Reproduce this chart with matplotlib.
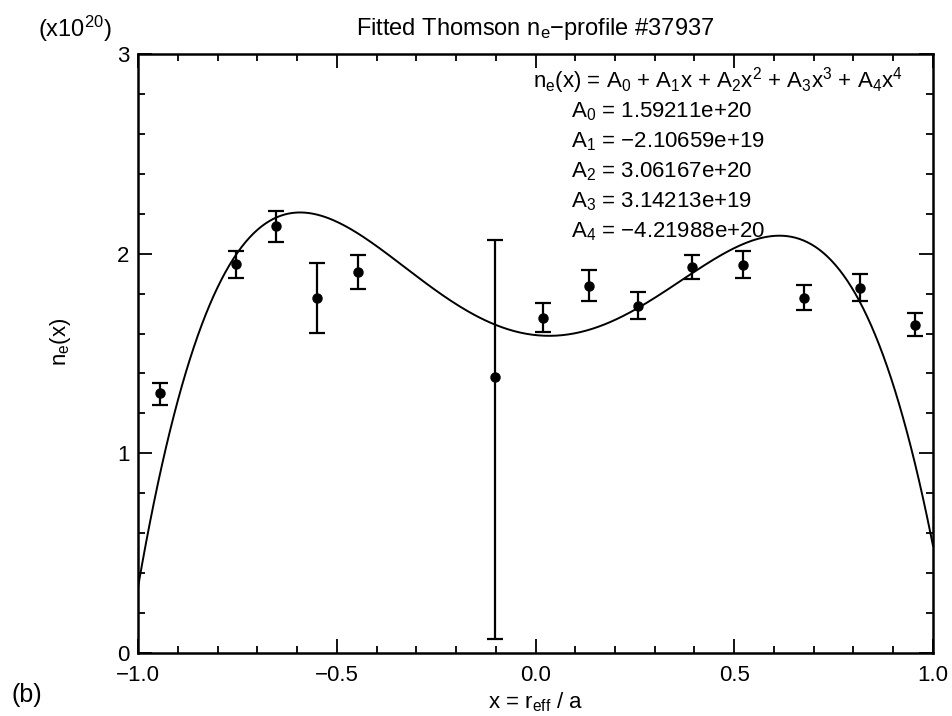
import numpy as np
import matplotlib
matplotlib.use("Agg")
import matplotlib.pyplot as plt
from matplotlib.ticker import MultipleLocator, FuncFormatter

plt.rcParams['font.family'] = ['Liberation Sans', 'DejaVu Sans']
plt.rcParams['mathtext.default'] = 'regular'

# Thomson points (x = r_eff/a, n_e in 1e20 m^-3)
x_pts = [-0.945, -0.753, -0.654, -0.550, -0.447, -0.101, 0.020, 0.135,
         0.258, 0.395, 0.523, 0.675, 0.816, 0.955]
ne_pts = [1.30, 1.95, 2.14, 1.78, 1.91, 1.38, 1.68, 1.84,
          1.74, 1.935, 1.945, 1.78, 1.83, 1.645]
err_lo = [0.06, 0.07, 0.08, 0.175, 0.085, 1.31, 0.07, 0.078,
          0.066, 0.06, 0.066, 0.062, 0.066, 0.057]
err_hi = [0.05, 0.065, 0.075, 0.175, 0.085, 0.69, 0.073, 0.078,
          0.066, 0.06, 0.066, 0.063, 0.066, 0.056]

# fit coefficients printed on the plot
coef = [1.59211e+20, -2.10659e+19, 3.06167e+20, 3.14213e+19, -4.21988e+20]
coef_txt = ['1.59211e+20', '\u22122.10659e+19', '3.06167e+20', '3.14213e+19', '\u22124.21988e+20']

fig = plt.figure(figsize=(9.52, 7.16), dpi=100)
ax = fig.add_axes([0.145, 0.088, 0.835, 0.8366])

xx = np.linspace(-1, 1, 400)
yy = sum(c * xx**i for i, c in enumerate(coef)) / 1e20
ax.plot(xx, yy, color='black', lw=1.4)

ax.errorbar(x_pts, ne_pts, yerr=[err_lo, err_hi], fmt='o', color='black',
            ms=6.5, capsize=6, elinewidth=1.6, capthick=1.6)

ax.set_xlim(-1, 1)
ax.set_ylim(0, 3)
ax.xaxis.set_major_locator(MultipleLocator(0.5))
ax.xaxis.set_minor_locator(MultipleLocator(0.1))
ax.yaxis.set_major_locator(MultipleLocator(1))
ax.yaxis.set_minor_locator(MultipleLocator(0.2))
ax.xaxis.set_major_formatter(FuncFormatter(lambda v, p: f"{v:.1f}".replace('-', '\u2212')))
ax.tick_params(which='both', direction='in', top=True, right=True, width=1.3, labelsize=16)
ax.tick_params(which='major', length=10)
ax.tick_params(axis='x', which='major', pad=9)
ax.tick_params(axis='y', which='major', pad=6)
ax.tick_params(which='minor', length=5)
for s in ax.spines.values():
    s.set_linewidth(1.8)

ax.set_xlabel(r'x = r$_{eff}$ / a', fontsize=16, labelpad=3)
ax.set_ylabel(r'n$_e$(x)', fontsize=16)
ax.yaxis.set_label_coords(-0.082, 0.52)

fig.text(0.562, 0.96, r'Fitted Thomson n$_e$$-$profile #37937', ha='center', va='center',
         fontsize=17)
fig.text(0.04, 0.96, r'(x10$^{20}$)', ha='left', va='center', fontsize=17)
fig.text(0.012, 0.03, '(b)', ha='left', va='center', fontsize=18)

ax.text(0.497, 0.955, r'n$_e$(x) = A$_0$ + A$_1$x + A$_2$x$^2$ + A$_3$x$^3$ + A$_4$x$^4$',
        transform=ax.transAxes, ha='left', va='center', fontsize=16)
for i, t in enumerate(coef_txt):
    ax.text(0.545, 0.903 - i * 0.0501, f'A$_{i}$ = ' + t,
            transform=ax.transAxes, ha='left', va='center', fontsize=16)

fig.savefig('out.png', dpi=100)
